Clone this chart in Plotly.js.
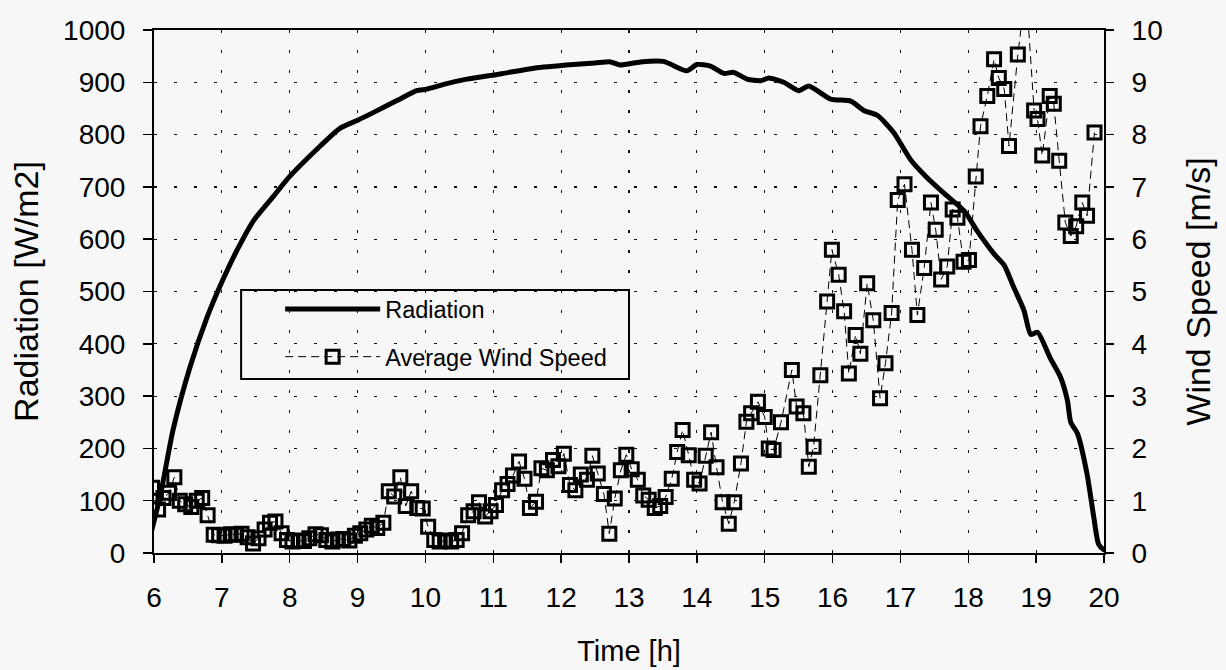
<!DOCTYPE html>
<html>
<head>
<meta charset="utf-8">
<script src="https://cdn.plot.ly/plotly-3.0.1.min.js"></script>
<style>html,body{margin:0;padding:0;background:#f7f7f7;}</style>
</head>
<body>
<div id="chart" style="width:1226px;height:670px;"></div>
<script>
// Radiation curve (W/m2)
const radHour = [5.88, 6.09, 6.28, 6.53, 6.78, 7.0, 7.22, 7.47, 7.76, 8.0, 8.4, 8.74, 9.01, 9.23, 9.58, 9.87,
  10.02, 10.3, 10.61, 11.1, 11.6, 12.18, 12.5, 12.73, 12.87, 13.17, 13.51, 13.85, 14.0, 14.2, 14.4, 14.54,
  14.74, 14.94, 15.06, 15.28, 15.5, 15.65, 15.97, 16.27, 16.46, 16.66, 16.9, 17.15, 17.39, 17.64, 17.94,
  18.13, 18.38, 18.53, 18.67, 18.82, 18.92, 19.02, 19.21, 19.36, 19.46, 19.51, 19.61, 19.75, 19.85, 19.92,
  20.0, 20.1];
const radValue = [0, 108, 235, 355, 450, 518, 578, 636, 682, 720, 772, 812, 828, 842, 865, 884,
  887, 897, 906, 916, 927, 934, 937, 939, 933, 939, 940, 922, 934, 931, 917, 919,
  906, 903, 908, 900, 884, 893, 868, 864, 846, 837, 804, 752, 718, 688, 654,
  616, 572, 550, 508, 464, 418, 422, 372, 336, 292, 250, 228, 151, 68, 17,
  6, 3];

// Average wind speed (m/s)
const windHour = [5.97, 6.06, 6.14, 6.22, 6.30, 6.38, 6.46, 6.55, 6.63, 6.71, 6.79, 6.88, 6.96,
  7.04, 7.13, 7.21, 7.29, 7.38, 7.46, 7.54, 7.63, 7.71, 7.79, 7.88, 7.96,
  8.04, 8.13, 8.21, 8.29, 8.38, 8.46, 8.54, 8.63, 8.71, 8.79, 8.88, 8.96,
  9.04, 9.13, 9.21, 9.29, 9.38, 9.46, 9.54, 9.63, 9.71, 9.79, 9.88, 9.96,
  10.04, 10.13, 10.21, 10.29, 10.38, 10.46, 10.54, 10.63, 10.71, 10.79, 10.88, 10.96,
  11.04, 11.13, 11.21, 11.29, 11.38, 11.46, 11.54, 11.63, 11.71, 11.79, 11.88, 11.96,
  12.04, 12.13, 12.21, 12.29, 12.38, 12.46, 12.54, 12.63, 12.71, 12.79, 12.88, 12.96,
  13.04, 13.13, 13.21, 13.29, 13.38, 13.46, 13.54, 13.63, 13.71, 13.79, 13.88, 13.96,
  14.04, 14.13, 14.21, 14.29, 14.38, 14.47, 14.55, 14.65, 14.73, 14.80, 14.90,
  15.00, 15.06, 15.13, 15.24, 15.40, 15.47, 15.57, 15.65, 15.72, 15.82, 15.92, 15.99,
  16.09, 16.17, 16.24, 16.34, 16.41, 16.51, 16.60, 16.70, 16.78, 16.87, 16.96,
  17.06, 17.17, 17.25, 17.35, 17.45, 17.52, 17.60, 17.69, 17.77, 17.84, 17.93,
  18.01, 18.11, 18.18, 18.28, 18.38, 18.45, 18.53, 18.60, 18.73, 18.85, 18.97,
  19.02, 19.09, 19.20, 19.26, 19.34, 19.43, 19.51, 19.59, 19.68, 19.75, 19.86];
const windSpeed = [1.25, 0.83, 1.05, 1.15, 1.45, 1.0, 0.93, 0.88, 1.0, 1.05, 0.72, 0.35, 0.34,
  0.33, 0.36, 0.35, 0.37, 0.30, 0.18, 0.28, 0.45, 0.58, 0.60, 0.38, 0.25,
  0.22, 0.24, 0.23, 0.28, 0.36, 0.34, 0.25, 0.22, 0.26, 0.27, 0.24, 0.33,
  0.38, 0.45, 0.52, 0.48, 0.58, 1.18, 1.08, 1.45, 0.9, 1.18, 0.86, 0.85,
  0.5, 0.25, 0.22, 0.24, 0.22, 0.25, 0.38, 0.72, 0.8, 0.97, 0.7, 0.8,
  0.92, 1.2, 1.32, 1.48, 1.75, 1.42, 0.86, 0.98, 1.62, 1.58, 1.78, 1.66,
  1.9, 1.3, 1.2, 1.5, 1.4, 1.86, 1.52, 1.13, 0.37, 1.04, 1.58, 1.88,
  1.6, 1.4, 1.1, 1.02, 0.86, 0.9, 1.07, 1.42, 1.93, 2.35, 1.87, 1.4,
  1.33, 1.86, 2.31, 1.64, 0.97, 0.56, 0.97, 1.71, 2.51, 2.67, 2.89,
  2.60, 2.00, 1.97, 2.50, 3.50, 2.80, 2.67, 1.65, 2.03, 3.40, 4.81, 5.80,
  5.32, 4.62, 3.43, 4.17, 3.81, 5.16, 4.45, 2.96, 3.63, 4.59, 6.75,
  7.05, 5.80, 4.55, 5.45, 6.70, 6.18, 5.23, 5.48, 6.57, 6.41, 5.57,
  5.60, 7.20, 8.16, 8.74, 9.44, 9.08, 8.87, 7.78, 9.53, 10.8, 8.46,
  8.30, 7.60, 8.74, 8.59, 7.50, 6.32, 6.06, 6.25, 6.70, 6.45, 8.04];

const FONT = 'Liberation Sans, Arial, Helvetica, sans-serif';

const traces = [
  {
    x: radHour, y: radValue, type: 'scatter', mode: 'lines',
    name: 'Radiation', legendgroup: 'a',
    line: {color: '#000', width: 5, shape: 'spline', smoothing: 0.6},
    xaxis: 'x', yaxis: 'y'
  },
  {
    x: windHour, y: windSpeed, type: 'scatter', mode: 'lines+markers',
    name: 'Average Wind Speed', legendgroup: 'b',
    line: {color: '#000', width: 1, dash: '8px,5px'},
    marker: {symbol: 'square-open', size: 13, color: '#000', line: {color: '#000', width: 3}},
    xaxis: 'x', yaxis: 'y2'
  }
];

const axisCommon = {
  showline: true, linecolor: '#000', linewidth: 2,
  tickcolor: '#000', tickwidth: 1.5, zeroline: false,
  tickfont: {family: FONT, size: 28, color: '#000'}
};

const layout = {
  width: 1226, height: 670,
  paper_bgcolor: '#f7f7f7', plot_bgcolor: '#f7f7f7',
  margin: {l: 154, r: 122, t: 30, b: 117, pad: 0},
  font: {family: FONT, color: '#000'},
  showlegend: true,
  legend: {
    x: 0.1328, y: 0.508, xanchor: 'left', yanchor: 'top',
    bgcolor: 'rgba(0,0,0,0)', borderwidth: 0,
    font: {family: FONT, size: 23.5, color: '#000'},
    itemwidth: 95, tracegroupgap: 14, traceorder: 'grouped'
  },
  xaxis: Object.assign({}, axisCommon, {
    range: [6, 20], tick0: 6, dtick: 1, mirror: true,
    ticks: 'outside', ticklen: 8, ticklabelstandoff: 10,
    showgrid: true, gridcolor: '#111', gridwidth: 1.2, griddash: '3px,17px',
    title: {text: 'Time [h]', font: {family: FONT, size: 29, color: '#000'}, standoff: 29}
  }),
  yaxis: Object.assign({}, axisCommon, {
    range: [0, 1000], tick0: 0, dtick: 100,
    ticks: 'outside', ticklen: 9, ticklabelstandoff: 12,
    showgrid: true, gridcolor: '#111', gridwidth: 1.2, griddash: '3px,17px',
    title: {text: 'Radiation [W/m2]', font: {family: FONT, size: 34, color: '#000'}, standoff: 14}
  }),
  yaxis2: Object.assign({}, axisCommon, {
    range: [0, 10], tick0: 0, dtick: 1, overlaying: 'y', side: 'right', anchor: 'x',
    ticks: 'outside', ticklen: 8, ticklabelstandoff: 12, showgrid: false,
    title: {text: 'Wind Speed [m/s]', font: {family: FONT, size: 34, color: '#000'}, standoff: 24}
  }),
  // inner halves of the crossing tick marks
  xaxis2: {range: [6, 20], tick0: 6, dtick: 1, overlaying: 'x', anchor: 'y', side: 'bottom',
    ticks: 'inside', ticklen: 6, tickwidth: 1.5, tickcolor: '#000', showticklabels: false,
    showgrid: false, showline: false, zeroline: false},
  yaxis3: {range: [0, 1000], tick0: 0, dtick: 100, overlaying: 'y', anchor: 'x', side: 'left',
    ticks: 'inside', ticklen: 6, tickwidth: 1.5, tickcolor: '#000', showticklabels: false,
    showgrid: false, showline: false, zeroline: false},
  yaxis4: {range: [0, 10], tick0: 0, dtick: 1, overlaying: 'y', anchor: 'x', side: 'right',
    ticks: 'inside', ticklen: 9, tickwidth: 1.5, tickcolor: '#000', showticklabels: false,
    showgrid: false, showline: false, zeroline: false},
  shapes: [
    {type: 'rect', xref: 'paper', yref: 'paper', x0: 0.0917, x1: 0.5, y0: 0.3327, y1: 0.5029,
     line: {color: '#000', width: 2}, fillcolor: 'rgba(0,0,0,0)', layer: 'above'}
  ]
};

Plotly.newPlot('chart', traces, layout, {displayModeBar: false, staticPlot: true});
</script>
</body>
</html>
